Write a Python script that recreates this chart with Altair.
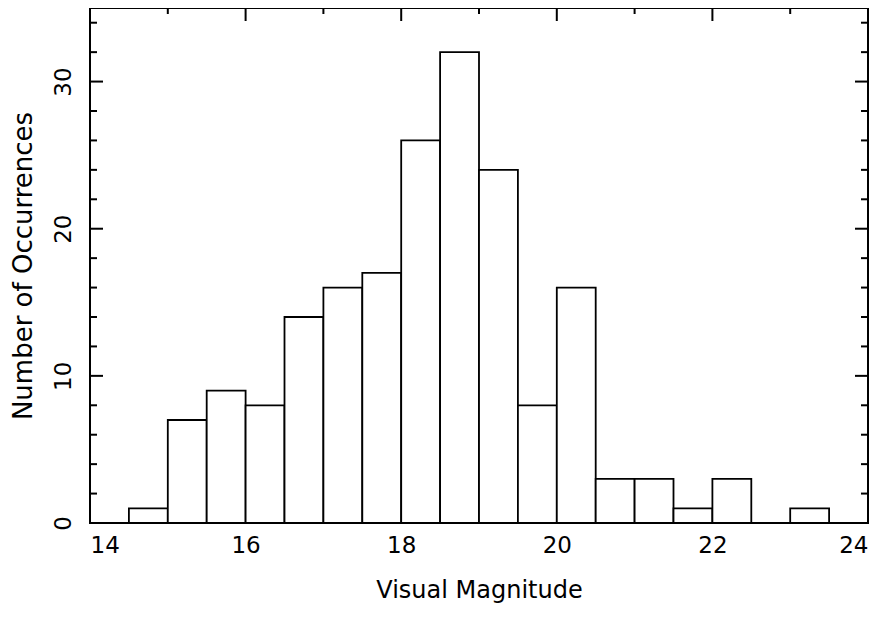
import altair as alt
import pandas as pd

bin_start = [14.5, 15.0, 15.5, 16.0, 16.5, 17.0, 17.5, 18.0, 18.5, 19.0,
             19.5, 20.0, 20.5, 21.0, 21.5, 22.0, 22.5, 23.0]
bin_end = [15.0, 15.5, 16.0, 16.5, 17.0, 17.5, 18.0, 18.5, 19.0, 19.5,
           20.0, 20.5, 21.0, 21.5, 22.0, 22.5, 23.0, 23.5]
counts = [1, 7, 9, 8, 14, 16, 17, 26, 32, 24, 8, 16, 3, 3, 1, 3, 0, 1]

x_major = [14, 16, 18, 20, 22, 24]
x_minor = [15, 17, 19, 21, 23]
y_major = [0, 10, 20, 30]
y_minor = [2, 4, 6, 8, 12, 14, 16, 18, 22, 24, 26, 28, 32, 34]

W, H = 778, 515
FONT = "DejaVu Sans"

bars_df = pd.DataFrame({"start": bin_start, "end": bin_end, "count": counts})
xs = alt.Scale(domain=[14, 24], nice=False, zero=False)
ys = alt.Scale(domain=[0, 35], nice=False)

bars = alt.Chart(bars_df).mark_bar(
    fill="white", stroke="black", strokeWidth=1.8
).encode(
    x=alt.X("start:Q", scale=xs, axis=alt.Axis(
        title="Visual Magnitude", values=x_major, format="d",
        ticks=False, tickSize=0, domain=False, grid=False,
        labelFont=FONT, labelFontSize=23, labelColor="black",
        labelPadding=22, labelBaseline="middle",
        titleFont=FONT, titleFontSize=24, titleFontWeight="normal", titleColor="black",
        titleY=74, titleBaseline="alphabetic")),
    x2="end:Q",
    y=alt.Y("count:Q", scale=ys, axis=alt.Axis(
        title="Number of Occurrences", values=y_major,
        ticks=False, tickSize=0, domain=False, grid=False,
        labelFont=FONT, labelFontSize=23, labelColor="black",
        labelAngle=-90, labelAlign="center", labelBaseline="middle",
        labelPadding=27,
        titleFont=FONT, titleFontSize=26, titleFontWeight="normal", titleColor="black",
        titleX=-67, titleAngle=-90, titleBaseline="middle", titleAlign="center")),
    y2=alt.datum(0),
)

xmaj = pd.DataFrame({"v": x_major})
xmin = pd.DataFrame({"v": x_minor})
ymaj = pd.DataFrame({"v": y_major})
ymin = pd.DataFrame({"v": y_minor})

def xtick(df, length):
    return alt.Chart(df).mark_rule(color="black", strokeWidth=2).encode(
        x=alt.X("v:Q", scale=xs), y=alt.value(0), y2=alt.value(length))

def ytick(df, x0, x1):
    return alt.Chart(df).mark_rule(color="black", strokeWidth=2).encode(
        y=alt.Y("v:Q", scale=ys), x=alt.value(x0), x2=alt.value(x1))

layers = [
    bars,
    xtick(xmaj, 13), xtick(xmin, 6),
    ytick(ymaj, 0, 13), ytick(ymin, 0, 7),
    ytick(ymaj, W - 13, W), ytick(ymin, W - 7, W),
]

chart = alt.layer(*layers).properties(
    width=W, height=H,
    autosize=alt.AutoSizeParams(type="none"),
    padding={"left": 82, "top": 0, "right": 11, "bottom": 86},
    background="white",
).configure_view(
    stroke="black", strokeWidth=2
)

chart.save("out.html", embed_options={"renderer": "svg", "actions": False})
